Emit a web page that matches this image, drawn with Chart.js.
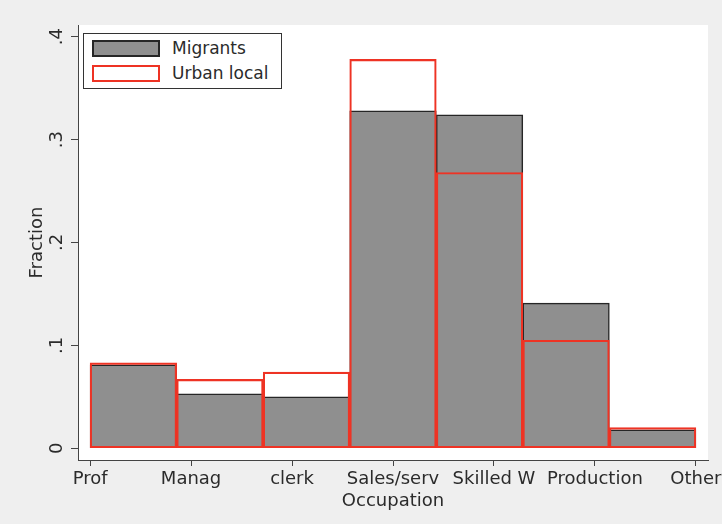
<!DOCTYPE html>
<html>
<head>
<meta charset="utf-8">
<script src="https://cdn.jsdelivr.net/npm/chart.js@4.4.1/dist/chart.umd.min.js"></script>
<style>
  html, body { margin: 0; padding: 0; background: #efefef; }
  #wrap { position: relative; width: 722px; height: 524px; }
  #legend {
    position: absolute; left: 83px; top: 33px; width: 199px; height: 56px;
    background: #fff; border: 1px solid #333; box-sizing: border-box;
    font-family: "DejaVu Sans", sans-serif; font-size: 17px; color: #2b2b2b;
  }
  .item { position: absolute; left: 8px; height: 18px; line-height: 18px; }
  .swatch { position: absolute; left: 0; top: 0; width: 68px; height: 17px; box-sizing: border-box; }
  .item span { position: absolute; left: 80px; top: -1px; white-space: nowrap; }
</style>
</head>
<body>
<div id="wrap">
  <canvas id="histChart" width="722" height="524"></canvas>
  <div id="legend">
    <div class="item" style="top:6px"><div class="swatch" style="background:#8f8f8f;border:2px solid #262626"></div><span>Migrants</span></div>
    <div class="item" style="top:31px"><div class="swatch" style="background:#fff;border:2px solid #ee3324"></div><span>Urban local</span></div>
  </div>
</div>
<script>
// occupation shares
const occupations = ['Prof', 'Manag', 'clerk', 'Sales/serv', 'Skilled W', 'Production', 'Other'];
const migrants = [0.081, 0.053, 0.050, 0.328, 0.324, 0.141, 0.018];
const urbanLocal = [0.083, 0.067, 0.074, 0.378, 0.268, 0.105, 0.020];
const yTickValues = [0, 0.1, 0.2, 0.3, 0.4];
const yTickLabels = ['0', '.1', '.2', '.3', '.4'];

// stata-style bins: 7 bins spanning 1..7
const binWidth = (occupations.length - 1) / occupations.length;
const toPoints = (vals) => vals.map((v, i) => ({ x: 1 + (i + 0.5) * binWidth, y: v }));

const textColor = '#2b2b2b';
const axisColor = '#444';
const font = { family: 'DejaVu Sans', size: 18 };

const plotBg = {
    id: 'plotBg',
    beforeDraw(chart) {
        const { ctx, chartArea: a } = chart;
        ctx.save();
        ctx.fillStyle = '#fff';
        ctx.fillRect(a.left, a.top, a.right - a.left, a.bottom - a.top);
        ctx.restore();
    }
};

// rotated y tick labels like stata
const yLabels = {
    id: 'yLabels',
    afterDraw(chart) {
        const { ctx } = chart;
        const y = chart.scales.y;
        ctx.save();
        ctx.fillStyle = textColor;
        ctx.font = font.size + 'px ' + font.family;
        ctx.textAlign = 'center';
        ctx.textBaseline = 'middle';
        yTickValues.forEach((v, i) => {
            ctx.save();
            ctx.translate(57, y.getPixelForValue(v));
            ctx.rotate(-Math.PI / 2);
            ctx.fillText(yTickLabels[i], 0, 0);
            ctx.restore();
        });
        ctx.restore();
    }
};

new Chart(document.getElementById('histChart'), {
    type: 'bar',
    data: {
        datasets: [
            {
                label: 'Migrants',
                data: toPoints(migrants),
                backgroundColor: '#8f8f8f',
                borderColor: '#262626',
                borderWidth: 1.5,
                borderSkipped: false,
                order: 1
            },
            {
                label: 'Urban local',
                data: toPoints(urbanLocal),
                backgroundColor: 'rgba(0,0,0,0)',
                borderColor: '#ee3324',
                borderWidth: 1.5,
                borderSkipped: false,
                order: 0
            }
        ]
    },
    options: {
        responsive: false,
        animation: false,
        grouped: false,
        barPercentage: 1,
        categoryPercentage: 1,
        layout: { padding: { top: 25, right: 14, bottom: 0, left: 0 } },
        plugins: { legend: { display: false }, tooltip: { enabled: false } },
        scales: {
            x: {
                type: 'linear',
                offset: false,
                min: 0.88,
                max: 7.12,
                afterBuildTicks: (s) => { s.ticks = occupations.map((_, i) => ({ value: i + 1 })); },
                afterFit: (s) => { s.height = 64; s.paddingLeft = 0; s.paddingRight = 0; },
                ticks: {
                    autoSkip: false,
                    maxRotation: 0,
                    padding: 3,
                    color: textColor,
                    font: font,
                    callback: (v) => occupations[Math.round(v) - 1]
                },
                grid: { drawOnChartArea: false, offset: false, color: axisColor, tickLength: 6 },
                border: { color: axisColor, width: 1 },
                title: { display: true, text: 'Occupation', color: textColor, font: font, padding: { top: 0, bottom: 12 } }
            },
            y: {
                min: -0.0114,
                max: 0.4114,
                afterBuildTicks: (s) => { s.ticks = yTickValues.map(v => ({ value: v })); },
                afterFit: (s) => { s.width = 78; },
                ticks: { display: false },
                grid: { drawOnChartArea: false, color: axisColor, tickLength: 7 },
                border: { color: axisColor, width: 1 },
                title: { display: true, text: 'Fraction', color: textColor, font: font, padding: { top: 27, bottom: 0 } }
            }
        }
    },
    plugins: [plotBg, yLabels]
});
</script>
</body>
</html>
